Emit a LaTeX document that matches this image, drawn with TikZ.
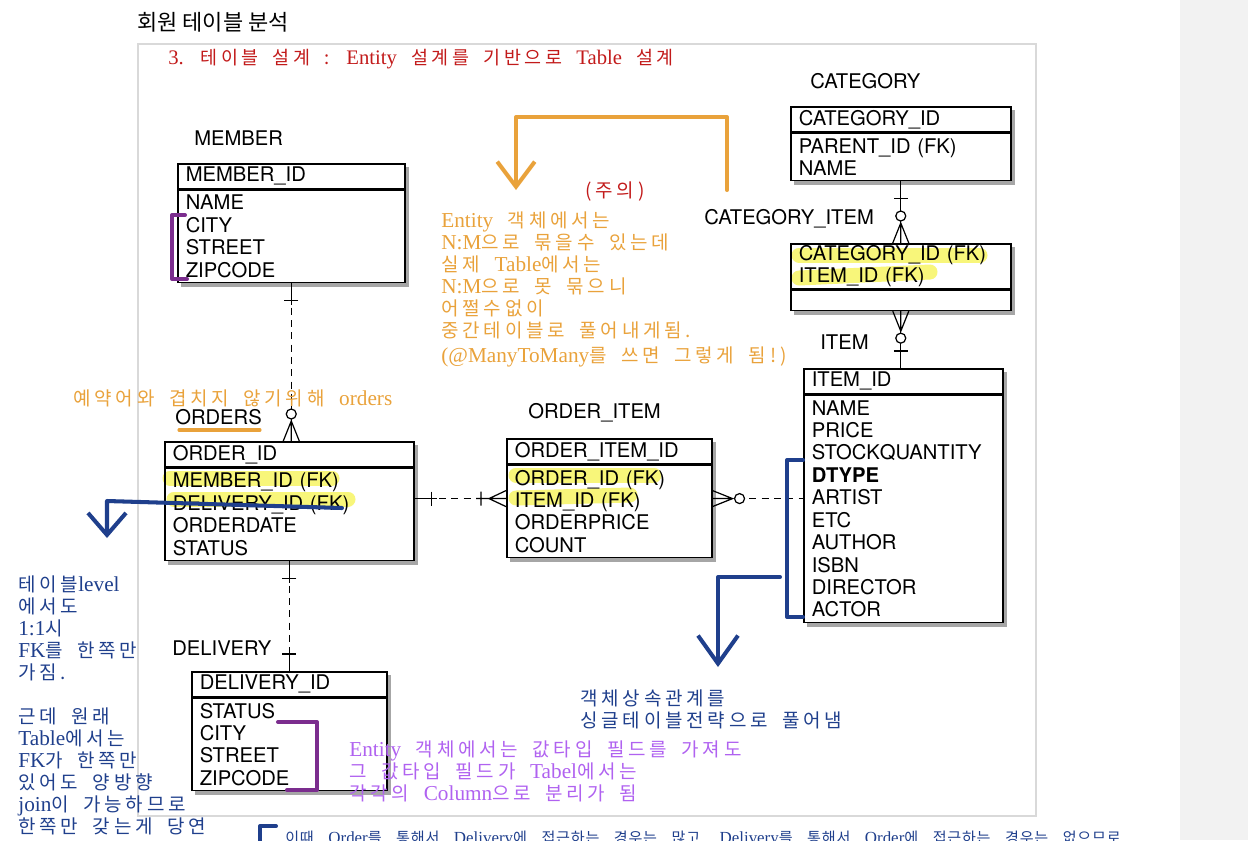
\documentclass[tikz,border=0pt]{standalone}
\usepackage{fontspec}
\setmainfont{TeX Gyre Heros}
\newfontfamily\krfont[LetterSpace=20,WordSpace=1.8]{Noto Sans CJK KR}
\newfontfamily\krnarrow[LetterSpace=5,WordSpace=3.5]{Noto Sans CJK KR}
\newfontfamily\krhead{Noto Sans CJK KR}
\newfontfamily\latfont[Scale=1.12]{Liberation Serif}
\usepackage{tikz}
\usetikzlibrary{arrows.meta,positioning,calc,backgrounds}
\definecolor{orng}{HTML}{E9A23B}
\definecolor{warn}{HTML}{C21A1A}
\definecolor{navy}{HTML}{1F3F8C}
\definecolor{plum}{HTML}{7B2D8E}
\definecolor{lilac}{HTML}{B062F0}
\definecolor{marker}{HTML}{F8F67A}
\newcommand\lt[1]{{\latfont #1}}
\newcommand\tblfont{\fontsize{11.5}{12.76}\selectfont}
\newcommand\memofont{\krfont\fontsize{10.8}{12.5}\selectfont}

\begin{document}
\begin{tikzpicture}[x=0.02cm, y=-0.02cm,
  tbl/.style={draw, line width=0.9pt, anchor=north west, inner xsep=0.16cm, inner ysep=0pt,
    text width=#1, align=left, font=\tblfont},
  hd/.style={tbl=#1, minimum height=0.5cm},
  lbl/.style={anchor=base west, inner sep=0pt, font=\tblfont},
  rel/.style={line width=0.7pt},
  nonid/.style={rel, dash pattern=on 4pt off 3pt},
  memo/.style={anchor=base west, inner sep=0pt, align=left, font=\memofont},
  hand/.style={line width=2.3pt, line cap=round, line join=round},
  hilite/.style={marker, line width=0.3cm, line cap=round},
  one/.pic={\draw[rel] (0,0) -- (22,0) (17,-7) -- (17,7);},
  zmany/.pic={\draw[rel] (0,0) -- (20,0) (0,-8) -- (20,0) -- (0,8);
    \draw[rel, fill=white] (27,0) circle[radius=0.1cm];},
  omany/.pic={\draw[rel] (0,0) -- (30,0) (0,-8) -- (17,0) -- (0,8) (25,-7) -- (25,7);}]
  \useasboundingbox (0,0) rectangle (1248,840);
  \clip (0,0) rectangle (1248,840);
  \fill[black!5] (1180,0) rectangle (1248,840);
  \draw[black!15, line width=1.2pt] (138,44) rectangle (1036,816);

  % headings
  \node[memo, font=\krhead\fontsize{12.5}{14}\selectfont] (title) at (137,30) {회원 테이블 분석};
  \node[memo, text=warn, font=\krfont\fontsize{10.5}{12}\selectfont] (sub) at (168,64) {\lt{3.} 테이블 설계 : \lt{Entity} 설계를 기반으로 \lt{Table} 설계};

  % tables
  \node[lbl] (memlbl) at (194,145) {MEMBER};
  \node[hd=4.22cm] (memh) at (177,163) {MEMBER\_ID};
  \node[tbl=4.22cm, minimum height=1.84cm, below=0pt of memh] (memb) {NAME\\CITY\\STREET\\ZIPCODE};

  \node[lbl] (ordlbl) at (175,424) {ORDERS};
  \node[hd=4.66cm] (ordh) at (164,441) {ORDER\_ID};
  \node[tbl=4.66cm, minimum height=1.84cm, below=0pt of ordh] (ordb) {MEMBER\_ID (FK)\\DELIVERY\_ID (FK)\\ORDERDATE\\STATUS};

  \node[lbl] (oilbl) at (528,418) {ORDER\_ITEM};
  \node[hd=3.78cm] (oih) at (506,438) {ORDER\_ITEM\_ID};
  \node[tbl=3.78cm, minimum height=1.84cm, below=0pt of oih] (oib) {ORDER\_ID (FK)\\ITEM\_ID (FK)\\ORDERPRICE\\COUNT};

  \node[lbl] (catlbl) at (810,88) {CATEGORY};
  \node[hd=4.08cm] (cath) at (790,106) {CATEGORY\_ID};
  \node[tbl=4.08cm, minimum height=0.94cm, below=0pt of cath] (catb) {PARENT\_ID (FK)\\NAME};

  \node[lbl] (cilbl) at (704,224) {CATEGORY\_ITEM};
  \node[hd=4.08cm, minimum height=0.9cm] (cih) at (790,243) {CATEGORY\_ID (FK)\\ITEM\_ID (FK)};
  \node[tbl=4.08cm, minimum height=0.4cm, below=0pt of cih] (cib) {};

  \node[lbl] (itmlbl) at (820,349) {ITEM};
  \node[hd=3.66cm] (itmh) at (803,368) {ITEM\_ID};
  \node[tbl=3.66cm, minimum height=4.54cm, below=0pt of itmh] (itmb) {NAME\\PRICE\\STOCKQUANTITY\\\textbf{DTYPE}\\ARTIST\\ETC\\AUTHOR\\ISBN\\DIRECTOR\\ACTOR};

  \node[lbl] (dellbl) at (172,655) {DELIVERY};
  \node[hd=3.58cm] (delh) at (191,671) {DELIVERY\_ID};
  \node[tbl=3.58cm, minimum height=1.84cm, below=0pt of delh] (delb) {STATUS\\CITY\\STREET\\ZIPCODE};

  % shadows, paper and marker strokes behind the tables
  \begin{scope}[on background layer]
    \foreach \tb in {mem,ord,oi,cat,ci,itm,del}
      \fill[black!35] ([xshift=2pt,yshift=-2pt]\tb h.north west) rectangle ([xshift=2pt,yshift=-2pt]\tb b.south east);
    \foreach \tb in {mem,ord,oi,cat,ci,itm,del}
      \fill[white] (\tb h.north west) rectangle (\tb b.south east);
    \draw[hilite] (170,478) -- (332,478);
    \draw[hilite] (174,499) -- (348,499);
    \draw[hilite] (516,475) -- (654,475);
    \draw[hilite] (516,498) -- (630,495);
    \draw[hilite] (799,255) -- (980,255);
    \draw[hilite] (799,278) -- (930,272);
  \end{scope}

  % relations
  \draw[nonid] (memb.south) -- (memb.south |- ordh.north);
  \pic[rotate=-90] at (memb.south) {one};
  \pic[rotate=90] at (memb.south |- ordh.north) {zmany};
  \coordinate (oe) at ($(ordb.north east)+(0,31)$);
  \draw[nonid] (oe) -- (oe -| oib.west);
  \pic at (oe) {one};
  \pic[rotate=180] at (oe -| oib.west) {omany};
  \draw[nonid] (oe -| oib.east) -- (oe -| itmb.west);
  \pic at (oe -| oib.east) {zmany};
  \draw[rel] (catb.south) -- (cih.north);
  \pic[rotate=-90] at (catb.south) {one};
  \pic[rotate=90] at (cih.north) {zmany};
  \draw[rel] (cib.south) -- (cib.south |- itmh.north);
  \pic[rotate=-90] at (cib.south) {zmany};
  \pic[rotate=90] at (cib.south |- itmh.north) {one};
  \draw[nonid] (ordb.south) -- (ordb.south |- delh.north);
  \pic[rotate=-90] at (ordb.south) {one};
  \pic[rotate=90] at (ordb.south |- delh.north) {one};

  % hand notes
  \draw[hand, orng, line width=1.8pt] (179,430) -- (260,430);
  \draw[hand, plum] (185,215) -- (172,215) -- (172,279) -- (187,279);
  \draw[hand, plum] (278,722) -- (317,722) -- (317,790) -- (287,790);
  \draw[hand, navy] (803,460) -- (787,460) -- (787,617) -- (803,617);
  \draw[hand, orng, -{Straight Barb[length=0.5cm,width=0.75cm]}] (727,190) -- (727,117) -- (516,117) -- (516,190);
  \draw[hand, navy, -{Straight Barb[length=0.44cm,width=0.76cm]}] (342,508) -- (107,501) -- (107,538);
  \draw[hand, navy, -{Straight Barb[length=0.56cm,width=0.8cm]}] (780,577) -- (718,577) -- (718,667);
  \draw[hand, navy] (260,845) -- (260,826) -- (276,826);

  \node[memo, text=warn] (care) at (585,197) {(주의)};
  \node[memo, text=orng] (nm) at (441,362) {\lt{Entity} 객체에서는\\\lt{N:M}으로 묶을수 있는데\\실제 \lt{Table}에서는\\\lt{N:M}으로 못 묶으니\\어쩔수없이\\중간테이블로 풀어내게됨.\\[1.7pt]\lt{(@ManyToMany}를 쓰면 그렇게 됨!)};
  \node[memo, text=orng] (resv) at (73,405) {예약어와 겹치지 않기위해 \lt{orders}};
  \node[memo, text=navy] (onetoone) at (18,833) {테이블\lt{level}\\에서도\\\lt{1:1}시\\\lt{FK}를 한쪽만\\가짐.\\[12.5pt]근데 원래\\\lt{Table}에서는\\\lt{FK}가 한쪽만\\있어도 양방향\\\lt{join}이 가능하므로\\한쪽만 갖는게 당연};
  \node[memo, text=navy] (single) at (580,727) {객체상속관계를\\싱글테이블전략으로 풀어냄};
  \node[memo, text=lilac] (embed) at (349,800) {\lt{Entity} 객체에서는 값타입 필드를 가져도\\그 값타입 필드가 \lt{Tabel}에서는\\각각의 \lt{Column}으로 분리가 됨};
  \node[memo, text=navy, font=\krnarrow\fontsize{8.6}{10}\selectfont] (bottom) at (285,843) {이때 \lt{Order}를 통해서 \lt{Delivery}에 접근하는 경우는 많고, \lt{Delivery}를 통해서 \lt{Order}에 접근하는 경우는 없으므로};
\end{tikzpicture}
\end{document}
